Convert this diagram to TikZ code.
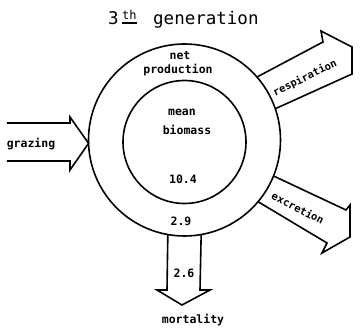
\documentclass[tikz,border=0pt]{standalone}
\usepackage{fontspec}
\newfontfamily\monofont{DejaVu Sans Mono}
\begin{document}
\begin{tikzpicture}[x=1pt,y=-1pt,
  lbl/.style={inner sep=0pt, font=\monofont\bfseries\fontsize{11.5}{12}\selectfont},
  rlbl/.style={inner sep=0pt, font=\monofont\bfseries\fontsize{10.5}{11}\selectfont},
  ttl/.style={inner sep=0pt, anchor=base west},
  ring/.style={circle, draw, line width=1.6pt, outer sep=0pt, inner sep=0pt},
  blk/.style={draw, line width=1.6pt, line join=miter}]
\useasboundingbox (0,0) rectangle (360,329);
% circles
\node[ring, minimum size=192pt] (outer) at (184.5,140) {};
\node[ring, minimum size=123pt] (inner) at (184.5,142) {};
% title
\node[ttl, font=\monofont\fontsize{17.5}{18}\selectfont] (three) at (108,25) {3};
\node[ttl, font=\monofont\fontsize{12}{12}\selectfont] (th) at (122,19.5) {th};
\draw[line width=1.3pt] (122,23) -- (137,23);
\node[ttl, font=\monofont\fontsize{17.5}{18}\selectfont] (gen) at (153,25) {generation};
% block arrows
\draw[blk] (7,123) -- (70,123) -- (70,117) -- (outer.182) -- (70,170) -- (70,161) -- (7,161);
\draw[blk] (outer.41) -- (323,42) -- (321,31) -- (352,47) -- (352,74) -- (outer.19.5);
\draw[blk] (outer.-22.8) -- (346,210) -- (350,205) -- (350,237) -- (322,253) -- (327,243) -- (outer.-40.6);
\draw[blk] (outer.-100.5) -- (167,290) -- (157,290) -- (182,305) -- (210,290) -- (200,290) -- (outer.-80.7);
% labels
\node[lbl] (net) at (180,56) {net};
\node[lbl] (prod) at (178,70) {production};
\node[lbl] (mean) at (182,112) {mean};
\node[lbl] (bio) at (187,130) {biomass};
\node[lbl] (v104) at (183,179) {10.4};
\node[lbl] (v29) at (181,221) {2.9};
\node[lbl] (v26) at (184,273) {2.6};
\node[lbl] (mort) at (193,320) {mortality};
\node[lbl] (graz) at (31,144) {grazing};
\node[rlbl, rotate=26] (resp) at (305,78) {respiration};
\node[rlbl, rotate=-27] (excr) at (298,208) {excretion};
\end{tikzpicture}
\end{document}
